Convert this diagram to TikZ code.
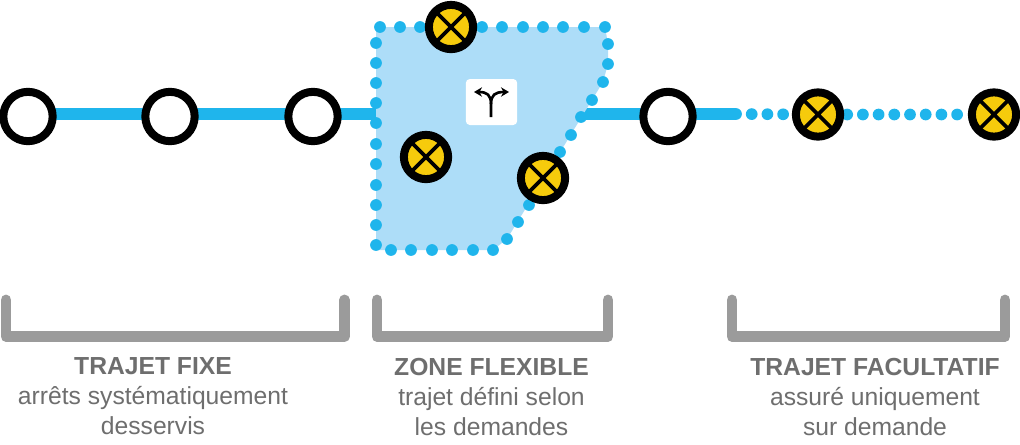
\documentclass[tikz,border=0pt]{standalone}
\usepackage{fontspec}
\setmainfont{Liberation Sans}
\usetikzlibrary{backgrounds,arrows.meta}
\definecolor{bleu}{HTML}{1FB5EC}
\definecolor{bleuclair}{HTML}{ADDDF8}
\definecolor{jaune}{HTML}{F6CB0C}
\definecolor{gris}{HTML}{9B9B9B}
\definecolor{grisfonce}{HTML}{6E6E6E}
\begin{document}
\begin{tikzpicture}[x=0.75pt,y=-0.75pt]
  \useasboundingbox (0,0) rectangle (1020,444);
  \tikzstyle{arret}=[circle, draw, line width=6pt, minimum size=37pt, inner sep=0pt, fill=white]
  \tikzstyle{option}=[circle, draw, line width=6pt, minimum size=33.2pt, inner sep=0pt, fill=jaune,
    path picture={\draw[line width=2.8pt] (path picture bounding box.north west) -- (path picture bounding box.south east)
      (path picture bounding box.north east) -- (path picture bounding box.south west);}]
  \tikzstyle{trait}=[bleu, line width=8.6pt]
  \tikzstyle{points}=[bleu, line width=8.8pt, line cap=round]
  \tikzstyle{crochet}=[gris, line width=8.2pt, line cap=round, line join=round]
  \tikzstyle{legende}=[grisfonce, font=\fontsize{18.5pt}{22.5pt}\selectfont, align=center, anchor=north, inner sep=0pt]

  % Arrets fixes
  \node[arret] (s1) at (28,116.5) {};
  \node[arret] (s2) at (170,116.5) {};
  \node[arret] (s3) at (313,116.5) {};
  \node[arret] (s4) at (668,116.5) {};

  % Arrets a la demande
  \node[option] (z1) at (451,27) {};
  \node[option] (z2) at (426,157) {};
  \node[option] (z3) at (543,178) {};
  \node[option] (f1) at (818,114.5) {};
  \node[option] (f2) at (994,114.5) {};

  \coordinate (zg) at (376,114);
  \coordinate (zd) at (583,114);
  \coordinate (fd) at (736,114);

  % Lignes et zone
  \begin{scope}[on background layer]
    \draw[trait] (s1 |- zg) -- (s2 |- zg);
    \draw[trait] (s2 |- zg) -- (s3 |- zg);
    \draw[trait] (s3 |- zg) -- (zg);
    \draw[trait] (zd) -- (s4 |- zg);
    \draw[trait] (s4 |- zg) -- (fd);
    \draw[points, dash pattern=on 0pt off 11.78pt] (fd) -- (f1);
    \draw[points, dash pattern=on 0pt off 11.78pt, dash phase=9.5pt] (f1) -- (f2);
    \fill[bleuclair] (376,27) -- (605,27) -- (608,44) -- (608,64) -- (603,82) -- (507,239) -- (493,250) -- (376,250) -- cycle;
    \foreach \x in {380,400,420,441,461,482,502,523,543,563,584,605}
      \fill[bleu] (\x,27) circle (4.4pt);
    \foreach \y in {43,63,83,103,123,144,164,185,205,225,245}
      \fill[bleu] (376,\y) circle (4.4pt);
    \foreach \x in {391,411,432,452,473,493}
      \fill[bleu] (\x,250) circle (4.4pt);
    \foreach \x/\y in {608/44,608/64,603/82,592/100,581/117,571/135,560/152,529/205,518/222,507/239}
      \fill[bleu] (\x,\y) circle (4.4pt);
  \end{scope}

  % Picto
  \node[fill=white, rounded corners=3pt, minimum width=38.5pt, minimum height=34.5pt, inner sep=0pt] (picto) at (491.5,102) {};
  \coordinate (pb) at (491,117);
  \coordinate (pg) at (474,92);
  \coordinate (pd) at (509,92);
  \draw[line width=2pt, -{Stealth[length=6pt,width=7pt]}] (pb) -- (491,104) .. controls (491,95) and (487,92) .. (pg);
  \draw[line width=2pt, -{Stealth[length=6pt,width=7pt]}] (491,104) .. controls (491,95) and (495,92) .. (pd);

  % Crochets
  \draw[crochet] (6,300) -- (6,336.5) -- (344.5,336.5) -- (344.5,300);
  \draw[crochet] (377,300) -- (377,336.5) -- (608,336.5) -- (608,300);
  \draw[crochet] (732,300) -- (732,336.5) -- (1005,336.5) -- (1005,300);

  % Legendes
  \node[legende] (l1) at (153,357.5) {\textbf{TRAJET FIXE}\\arrêts systématiquement\\desservis};
  \node[legende] (l2) at (491.5,357.5) {\textbf{ZONE FLEXIBLE}\\trajet défini selon\\les demandes};
  \node[legende] (l3) at (875,357.5) {\textbf{TRAJET FACULTATIF}\\assuré uniquement\\sur demande};
\end{tikzpicture}
\end{document}
